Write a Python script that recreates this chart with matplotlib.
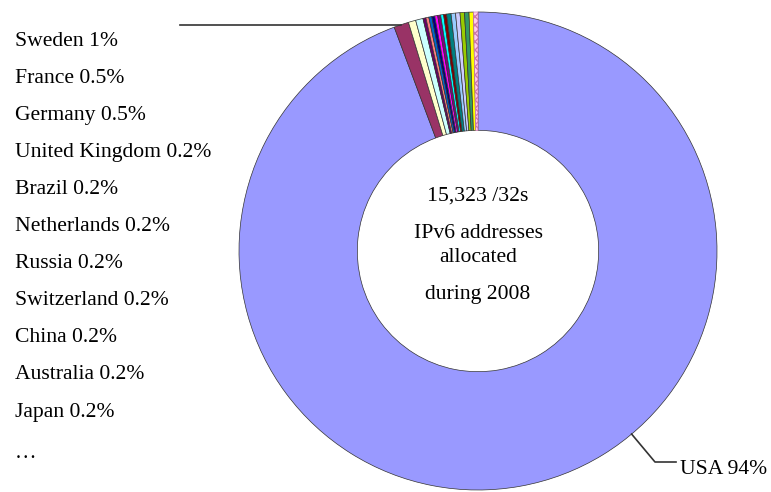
import numpy as np
import matplotlib
matplotlib.use("Agg")
import matplotlib.pyplot as plt

plt.rcParams['font.family'] = ['Liberation Serif', 'DejaVu Serif']

# /32 allocations by country, share in percent
countries = ["USA", "Sweden", "France", "Germany", "United Kingdom", "Brazil",
             "Netherlands", "Russia", "Switzerland", "China", "Australia", "Japan"]
shares = [94.3, 1, 0.5, 0.5, 0.2, 0.2, 0.2, 0.2, 0.2, 0.2, 0.2, 0.2]
# remaining countries (not named)
other_shares = [0.3, 0.3, 0.3, 0.3, 0.3, 0.3, 0.3]
label_pct = ["94%", "1%", "0.5%", "0.5%", "0.2%", "0.2%", "0.2%", "0.2%",
             "0.2%", "0.2%", "0.2%", "0.2%"]

colors = ["#9999FF", "#993366", "#FFFFCC", "#CCFFFF", "#660066", "#FF8080",
          "#0066CC", "#000080", "#FF00FF", "#800080", "#00FFFF", "#800000",
          "#008080", "#99CCFF", "#CCCCFF", "#99CC00", "#339966", "#FFFF00",
          "#FFCCEE"]

center_lines = ["15,323 /32s", "IPv6 addresses", "allocated", "during 2008"]

W, H = 771, 492
fig = plt.figure(figsize=(W / 100, H / 100), dpi=100)
ax = fig.add_axes([0, 0, 1, 1])

cx, cy, R = 478, H - 251, 239
values = shares + other_shares
wedges, _ = ax.pie(values, colors=colors, startangle=90, counterclock=False,
                   center=(cx, cy), radius=R,
                   wedgeprops=dict(width=R * 0.495, edgecolor="#333333", linewidth=0.5))
wedges[-1].set_hatch("xxxx")
wedges[-1].set_edgecolor("#CC77AA")
ax.set_xlim(0, W)
ax.set_ylim(0, H)
ax.set_aspect("equal")
ax.axis("off")

fs = 15.6
# left-hand list of countries
y0, step = H - 41, 37.1
for i, (name, pct) in enumerate(zip(countries[1:], label_pct[1:])):
    ax.text(15, y0 - i * step, f"{name} {pct}", fontsize=fs, va="center", ha="left")
ax.text(15, y0 - 11 * step - 4, "…", fontsize=fs, va="center", ha="left")

# leader from the Sweden slice to the list
w = wedges[1]
mid = np.deg2rad((w.theta1 + w.theta2) / 2)
px, py = cx + R * np.cos(mid), cy + R * np.sin(mid)
ax.plot([180, px], [py, py], color="#333333", lw=1.2)

# USA label with leader
ang = np.deg2rad(-50)
ux, uy = cx + R * np.cos(ang), cy + R * np.sin(ang)
ax.plot([ux, 655, 676], [uy, H - 462, H - 462], color="#333333", lw=1.2)
ax.text(680, H - 470, f"{countries[0]} {label_pct[0]}", fontsize=fs, va="center", ha="left")

# text in the hole
for txt, yy in zip(center_lines, [196, 233, 258, 295]):
    ax.text(cx, H - yy, txt, fontsize=fs, va="center", ha="center")

fig.savefig("out.png", dpi=100, facecolor="white")
